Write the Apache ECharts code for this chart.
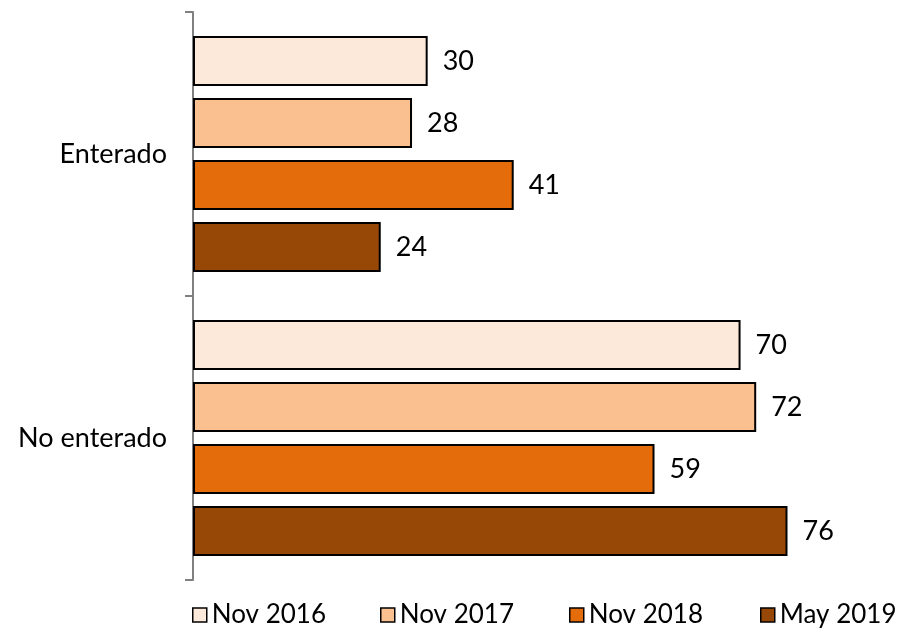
<!DOCTYPE html>
<html><head><meta charset="utf-8">
<script src="https://cdn.jsdelivr.net/npm/echarts@6/dist/echarts.min.js"></script>
<style>html,body{margin:0;padding:0;background:#fff}#c{width:898px;height:629px}</style>
</head><body><div id="c"></div>
<script>
var categories = ["Enterado", "No enterado"];
var seriesNames = ["Nov 2016", "Nov 2017", "Nov 2018", "May 2019"];
var nov2016 = [30, 70];
var nov2017 = [28, 72];
var nov2018 = [41, 59];
var may2019 = [24, 76];
var colors = ["#FDE9D9", "#FAC090", "#E46C0A", "#974806"];
var values = [nov2016, nov2017, nov2018, may2019];
var legendLeft = [192, 380, 569, 760];
var FONT = "Lato";
var chart = echarts.init(document.getElementById('c'));
chart.setOption({
  animation: false,
  textStyle: {fontFamily: FONT},
  grid: {left: 193, right: 1, top: 12, bottom: 49, containLabel: false},
  xAxis: {type: 'value', min: 0, max: 90, show: false},
  yAxis: {
    type: 'category', data: categories, inverse: true,
    axisLine: {show: true, lineStyle: {color: '#808080', width: 2}},
    axisTick: {show: true, inside: false, alignWithLabel: false, length: 8, lineStyle: {color: '#808080', width: 2}},
    axisLabel: {fontSize: 27, color: '#000', margin: 26, fontFamily: FONT}
  },
  legend: seriesNames.map(function(n, i){
    return {
      bottom: 1, left: legendLeft[i], padding: 0, itemWidth: 14, itemHeight: 14, icon: 'rect',
      textStyle: {fontSize: 26, color: '#000', fontFamily: FONT},
      itemStyle: {borderColor: '#000', borderWidth: 1.5},
      data: [n]
    };
  }),
  series: seriesNames.map(function(n, i){
    return {
      name: n, type: 'bar', data: values[i],
      barWidth: 50, barGap: '24%',
      itemStyle: {color: colors[i], borderColor: '#000', borderWidth: 2},
      label: {show: true, position: 'right', distance: 15, fontSize: 27, color: '#000', fontFamily: FONT}
    };
  })
});
</script></body></html>
